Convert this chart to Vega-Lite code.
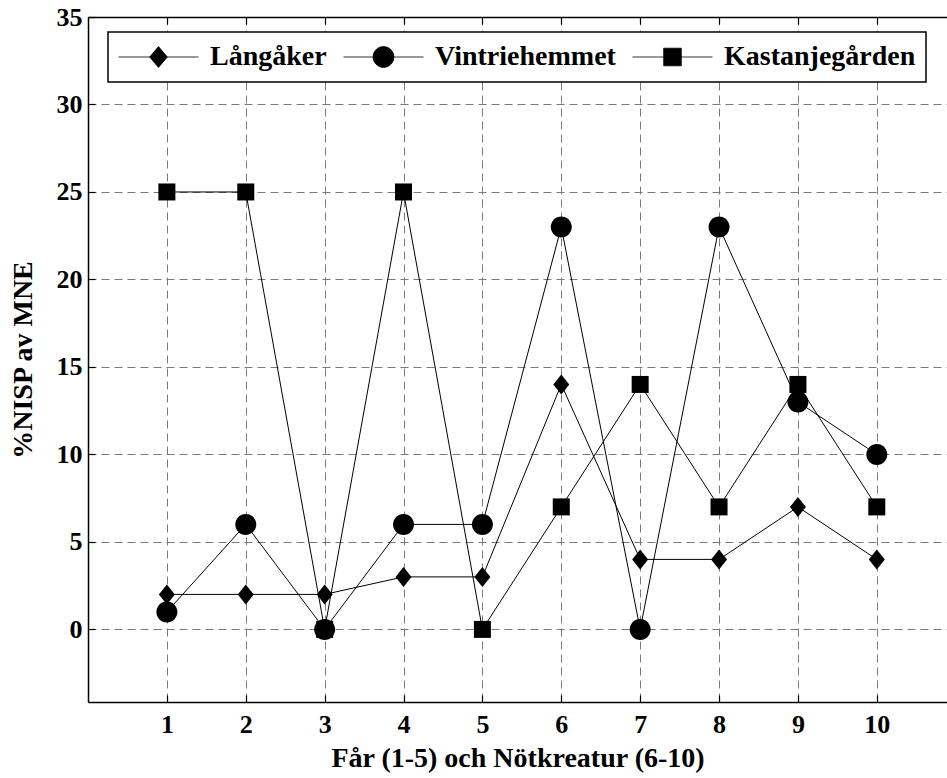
{
  "$schema": "https://vega.github.io/schema/vega-lite/v6.json",
  "width": 859,
  "height": 685,
  "autosize": {"type": "none"},
  "padding": {"left": 88, "top": 17, "right": 0, "bottom": 76},
  "background": "white",
  "config": {
    "view": {"stroke": null},
    "font": "Liberation Serif",
    "axis": {
      "labelFont": "Liberation Serif",
      "labelFontWeight": "bold",
      "labelFontSize": 26,
      "labelColor": "black",
      "titleFont": "Liberation Serif",
      "titleFontWeight": "bold",
      "titleFontSize": 28,
      "titleColor": "black",
      "domainColor": "black",
      "domainWidth": 1.5,
      "tickColor": "black",
      "tickWidth": 1.2,
      "tickSize": -7,
      "gridColor": "#7a7a7a",
      "gridDash": [8, 5],
      "gridWidth": 1,
      "gridOpacity": 1
    }
  },
  "data": {
    "values": [
      {"x": 1, "series": "Långåker", "value": 2},
      {"x": 2, "series": "Långåker", "value": 2},
      {"x": 3, "series": "Långåker", "value": 2},
      {"x": 4, "series": "Långåker", "value": 3},
      {"x": 5, "series": "Långåker", "value": 3},
      {"x": 6, "series": "Långåker", "value": 14},
      {"x": 7, "series": "Långåker", "value": 4},
      {"x": 8, "series": "Långåker", "value": 4},
      {"x": 9, "series": "Långåker", "value": 7},
      {"x": 10, "series": "Långåker", "value": 4},
      {"x": 1, "series": "Vintriehemmet", "value": 1},
      {"x": 2, "series": "Vintriehemmet", "value": 6},
      {"x": 3, "series": "Vintriehemmet", "value": 0},
      {"x": 4, "series": "Vintriehemmet", "value": 6},
      {"x": 5, "series": "Vintriehemmet", "value": 6},
      {"x": 6, "series": "Vintriehemmet", "value": 23},
      {"x": 7, "series": "Vintriehemmet", "value": 0},
      {"x": 8, "series": "Vintriehemmet", "value": 23},
      {"x": 9, "series": "Vintriehemmet", "value": 13},
      {"x": 10, "series": "Vintriehemmet", "value": 10},
      {"x": 1, "series": "Kastanjegården", "value": 25},
      {"x": 2, "series": "Kastanjegården", "value": 25},
      {"x": 3, "series": "Kastanjegården", "value": 0},
      {"x": 4, "series": "Kastanjegården", "value": 25},
      {"x": 5, "series": "Kastanjegården", "value": 0},
      {"x": 6, "series": "Kastanjegården", "value": 7},
      {"x": 7, "series": "Kastanjegården", "value": 14},
      {"x": 8, "series": "Kastanjegården", "value": 7},
      {"x": 9, "series": "Kastanjegården", "value": 14},
      {"x": 10, "series": "Kastanjegården", "value": 7}
    ]
  },
  "resolve": {"axis": {"x": "independent"}, "scale": {"shape": "independent"}},
  "layer": [
    {
      "mark": {"type": "line", "color": "black", "strokeWidth": 1, "clip": true},
      "encoding": {
        "x": {
          "field": "x",
          "type": "quantitative",
          "scale": {"domain": [0, 10.89], "nice": false, "zero": false},
          "axis": {
            "orient": "bottom",
            "values": [1, 2, 3, 4, 5, 6, 7, 8, 9, 10],
            "grid": true,
            "labelPadding": 16,
            "labelFlush": false,
            "title": "Får (1-5) och Nötkreatur (6-10)",
            "titlePadding": 7
          }
        },
        "y": {
          "field": "value",
          "type": "quantitative",
          "scale": {"domain": [-4.15, 35], "nice": false, "zero": false},
          "axis": {
            "values": [0, 5, 10, 15, 20, 25, 30, 35],
            "grid": true,
            "labelPadding": 13,
            "labelFlush": false,
            "title": "%NISP av MNE",
            "titlePadding": 19
          }
        },
        "detail": {"field": "series", "type": "nominal"}
      }
    },
    {
      "mark": {"type": "point", "filled": true, "color": "black", "opacity": 1, "size": 100, "clip": true},
      "encoding": {
        "x": {
          "field": "x",
          "type": "quantitative",
          "scale": {"domain": [0, 10.89], "nice": false, "zero": false},
          "axis": {
            "orient": "top",
            "values": [1, 2, 3, 4, 5, 6, 7, 8, 9, 10],
            "grid": false,
            "labels": false,
            "title": null
          }
        },
        "y": {"field": "value", "type": "quantitative"},
        "shape": {
          "field": "series",
          "type": "nominal",
          "scale": {
            "domain": ["Långåker", "Vintriehemmet", "Kastanjegården"],
            "range": [
              "M0,-2L1.6,0L0,2L-1.6,0Z",
              "M2.1,0A2.1,2.1,0,1,1,-2.1,0A2.1,2.1,0,1,1,2.1,0Z",
              "M-1.7,-1.7L1.7,-1.7L1.7,1.7L-1.7,1.7Z"
            ]
          },
          "legend": null
        }
      }
    },
    {
      "mark": {"type": "point", "filled": true, "color": "black", "opacity": 0, "size": 1, "clip": true},
      "encoding": {
        "x": {"field": "x", "type": "quantitative", "axis": null},
        "y": {"field": "value", "type": "quantitative"},
        "shape": {
          "field": "series",
          "type": "nominal",
          "scale": {
            "domain": ["Långåker", "Vintriehemmet", "Kastanjegården"],
            "range": [
              "M-1,0L1,0M0,-0.26L0.22,0L0,0.26L-0.22,0Z",
              "M-1,0L1,0M0.26,0A0.26,0.26,0,1,1,-0.26,0A0.26,0.26,0,1,1,0.26,0Z",
              "M-1,0L1,0M-0.22,-0.22L0.22,-0.22L0.22,0.22L-0.22,0.22Z"
            ]
          },
          "legend": {
            "title": null,
            "orient": "none",
            "legendX": 20,
            "legendY": 15,
            "direction": "horizontal",
            "columns": 3,
            "columnPadding": 16,
            "symbolSize": 6400,
            "clipHeight": 30,
            "labelOffset": 11,
            "labelFont": "Liberation Serif",
            "labelFontWeight": "bold",
            "labelFontSize": 28,
            "labelColor": "black",
            "labelLimit": 400,
            "padding": 10,
            "strokeColor": "black",
            "fillColor": "white",
            "encoding": {
              "legend": {"strokeWidth": {"value": 1.5}},
              "symbols": {
                "size": {"value": 6400},
                "fill": {"value": "black"},
                "stroke": {"value": "black"},
                "strokeWidth": {"value": 0.8},
                "opacity": {"value": 1}
              }
            }
          }
        }
      }
    }
  ]
}
